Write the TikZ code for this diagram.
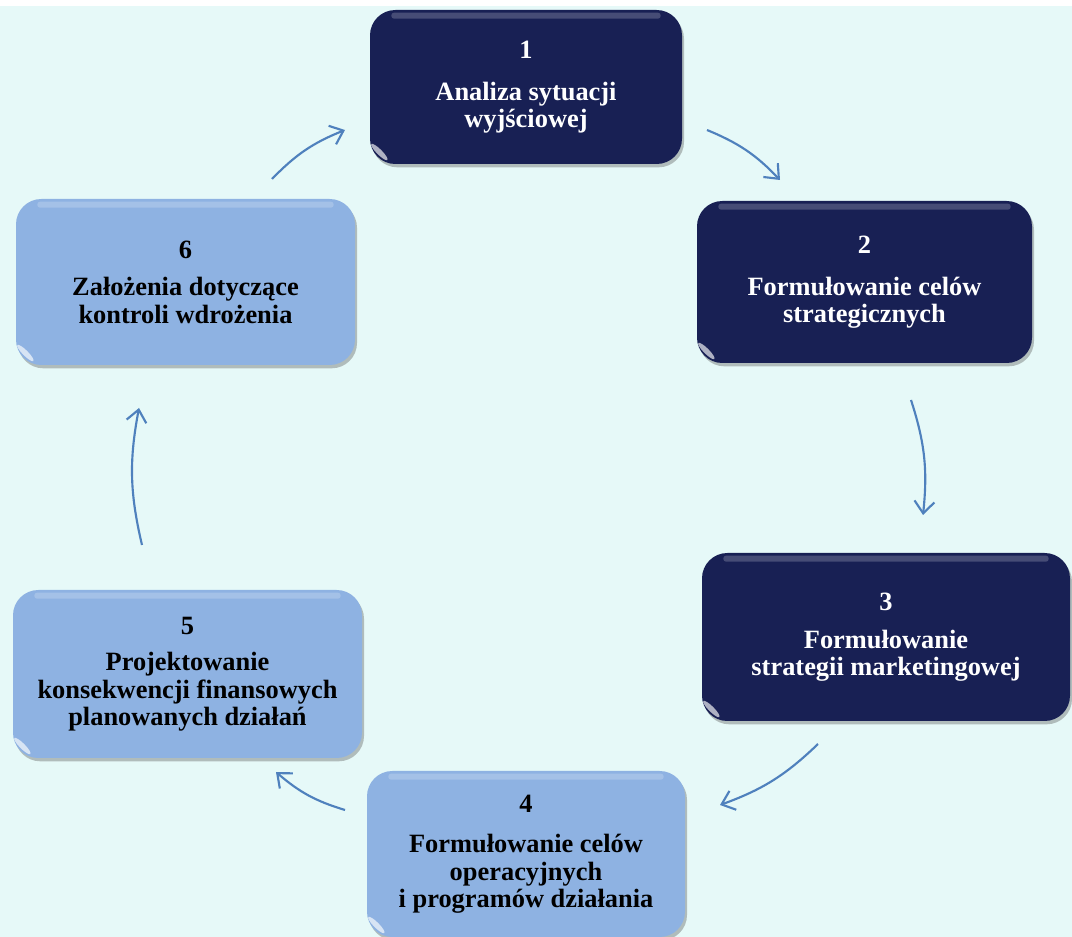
\documentclass[tikz,border=0pt]{standalone}
\usepackage{fontspec}
\setmainfont{Liberation Serif}
\usetikzlibrary{arrows.meta, shadows}
\definecolor{bgcyan}{RGB}{230, 249, 248}
\definecolor{navybox}{RGB}{24, 32, 84}
\definecolor{lightbox}{RGB}{142, 178, 226}
\definecolor{arrblue}{RGB}{79, 129, 189}

\begin{document}
\begin{tikzpicture}[x=0.75pt, y=-0.75pt,
        glossy/.style={path picture={
            \fill[white, opacity=0.2, rounded corners=2pt]
                ([shift={(16pt,-2pt)}]path picture bounding box.north west) rectangle
                ([shift={(-16pt,-6.5pt)}]path picture bounding box.north east);
            \fill[white, opacity=0.65]
                ([shift={(7pt,9pt)}]path picture bounding box.south west)
                ellipse [x radius=2pt, y radius=8.5pt, rotate=45];
        }},
        stage/.style={rectangle, rounded corners=19pt, inner sep=0pt, align=center,
            font=\fontsize{19.8}{20.4}\selectfont\bfseries,
            drop shadow={shadow xshift=1.5pt, shadow yshift=-2.5pt, opacity=0.35, fill=black!70},
            glossy},
        darkstage/.style={stage, fill=navybox, text=white},
        lightstage/.style={stage, fill=lightbox, text=black},
        arr/.style={-{Straight Barb[length=9pt, width=15pt]}, arrblue, line width=1.6pt, bend left=12}
    ]
        % background
        \useasboundingbox (0,0) rectangle (1072,937);
        \fill[white] (0,0) rectangle (1072,937);
        \fill[bgcyan] (0,6) rectangle (1072,937);

        % stages
        \node[darkstage, minimum width=312*0.75pt, minimum height=154*0.75pt] (b1) at (526,87)
            {1\\[11pt]Analiza sytuacji\\wyjściowej};
        \node[darkstage, minimum width=335*0.75pt, minimum height=162*0.75pt] (b2) at (864.5,282)
            {2\\[11pt]Formułowanie celów\\strategicznych};
        \node[darkstage, minimum width=368*0.75pt, minimum height=168*0.75pt] (b3) at (886,637)
            {3\\[8pt]Formułowanie\\strategii marketingowej};
        \node[lightstage, minimum width=318*0.75pt, minimum height=166*0.75pt] (b4) at (526,854)
            {4\\[10pt]Formułowanie celów\\operacyjnych\\i programów działania};
        \node[lightstage, minimum width=349*0.75pt, minimum height=168*0.75pt] (b5) at (187.5,674)
            {5\\[7pt]Projektowanie\\konsekwencji finansowych\\planowanych działań};
        \node[lightstage, minimum width=339*0.75pt, minimum height=166*0.75pt] (b6) at (185.5,282)
            {6\\[8pt]Założenia dotyczące\\kontroli wdrożenia};

        % arrow ends
        \coordinate (c61a) at (272,179); \coordinate (c61b) at (345,130);
        \coordinate (c12a) at (707,130); \coordinate (c12b) at (780,180);
        \coordinate (c23a) at (911,400); \coordinate (c23b) at (923,515);
        \coordinate (c34a) at (818,744); \coordinate (c34b) at (720,805);
        \coordinate (c45a) at (345,810); \coordinate (c45b) at (276,772);
        \coordinate (c56a) at (142,545); \coordinate (c56b) at (139,408);

        \draw[arr] (c61a) to (c61b);
        \draw[arr] (c12a) to (c12b);
        \draw[arr] (c23a) to (c23b);
        \draw[arr] (c34a) to (c34b);
        \draw[arr] (c45a) to (c45b);
        \draw[arr] (c56a) to (c56b);
    \end{tikzpicture}
\end{document}
